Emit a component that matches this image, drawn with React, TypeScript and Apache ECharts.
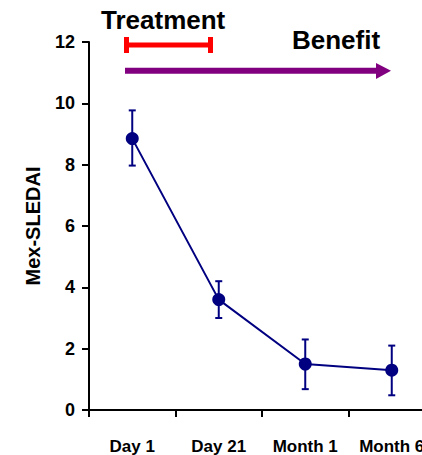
import React, { useEffect, useRef } from "react";
import * as echarts from "echarts";

const categories = ["Day 1", "Day 21", "Month 1", "Month 6"];
const meanValues = [8.85, 3.6, 1.5, 1.3];
const lowerValues = [7.97, 3.0, 0.68, 0.48];
const upperValues = [9.77, 4.2, 2.3, 2.1];
const yTicks = { min: 0, max: 12, interval: 2 };

const FONT = "'Liberation Sans', Arial, sans-serif";
const NAVY = "#000080";

export default function App() {
  const ref = useRef<HTMLDivElement>(null);
  useEffect(() => {
    if (!ref.current) return;
    const chart = echarts.init(ref.current, null, { renderer: "svg" });
    const errData = categories.map((_, i) => [i, lowerValues[i], upperValues[i]]);
    chart.setOption({
      animation: false,
      backgroundColor: "#ffffff",
      grid: { left: 89, top: 42, right: 1, bottom: 42, containLabel: false },
      xAxis: {
        type: "category",
        data: categories,
        boundaryGap: true,
        axisLine: { lineStyle: { color: "#000", width: 2 } },
        axisTick: { show: true, length: 7, lineStyle: { color: "#000", width: 2 }, alignWithLabel: false },
        axisLabel: {
          color: "#000",
          fontWeight: "bold",
          fontSize: 17,
          fontFamily: FONT,
          margin: 28,
          interval: 0,
          hideOverlap: false,
        },
        splitLine: { show: false },
      },
      yAxis: {
        type: "value",
        min: yTicks.min,
        max: yTicks.max,
        interval: yTicks.interval,
        name: "Mex-SLEDAI",
        nameLocation: "middle",
        nameGap: 46,
        nameTextStyle: { color: "#000", fontWeight: "bold", fontSize: 20, fontFamily: FONT },
        axisLine: { show: true, lineStyle: { color: "#000", width: 2 } },
        axisTick: { show: true, length: 7, lineStyle: { color: "#000", width: 2 } },
        axisLabel: { color: "#000", fontWeight: "bold", fontSize: 18, fontFamily: FONT, margin: 14 },
        splitLine: { show: false },
      },
      graphic: [
        {
          type: "text",
          left: 101,
          top: 7,
          style: { text: "Treatment", fill: "#000", font: `bold 26px ${FONT}` },
        },
        {
          type: "text",
          left: 292,
          top: 27,
          style: { text: "Benefit", fill: "#000", font: `bold 26px ${FONT}` },
        },
        {
          type: "line",
          shape: { x1: 126, y1: 45, x2: 211, y2: 45 },
          style: { stroke: "#ff0000", lineWidth: 5 },
        },
        {
          type: "line",
          shape: { x1: 126.5, y1: 37, x2: 126.5, y2: 53 },
          style: { stroke: "#ff0000", lineWidth: 5 },
        },
        {
          type: "line",
          shape: { x1: 210.5, y1: 37, x2: 210.5, y2: 53 },
          style: { stroke: "#ff0000", lineWidth: 5 },
        },
        {
          type: "line",
          shape: { x1: 125, y1: 70.8, x2: 380, y2: 70.8 },
          style: { stroke: "#800080", lineWidth: 6 },
        },
        {
          type: "polygon",
          shape: { points: [[376, 63], [391, 70.8], [376, 79]] },
          style: { fill: "#800080" },
        },
      ],
      series: [
        {
          type: "custom",
          data: errData,
          renderItem: (params: any, api: any) => {
            const x = api.coord([api.value(0), 0])[0];
            const lo = api.coord([api.value(0), api.value(1)])[1];
            const hi = api.coord([api.value(0), api.value(2)])[1];
            const hw = 3.5;
            const st = { stroke: NAVY, lineWidth: 2 };
            return {
              type: "group",
              children: [
                { type: "line", shape: { x1: x, y1: lo, x2: x, y2: hi }, style: st },
                { type: "line", shape: { x1: x - hw, y1: lo, x2: x + hw, y2: lo }, style: st },
                { type: "line", shape: { x1: x - hw, y1: hi, x2: x + hw, y2: hi }, style: st },
              ],
            };
          },
          z: 2,
        },
        {
          type: "line",
          data: meanValues,
          symbol: "circle",
          symbolSize: 13,
          lineStyle: { color: NAVY, width: 2 },
          itemStyle: { color: NAVY },
          z: 3,
        },
      ],
    });
    return () => chart.dispose();
  }, []);
  return (
    <div
      style={{
        position: "fixed",
        left: 0,
        top: 0,
        width: 422,
        height: 455,
        overflow: "hidden",
        background: "#fff",
      }}
    >
      <div ref={ref} style={{ width: 436, height: 455 }} />
    </div>
  );
}
